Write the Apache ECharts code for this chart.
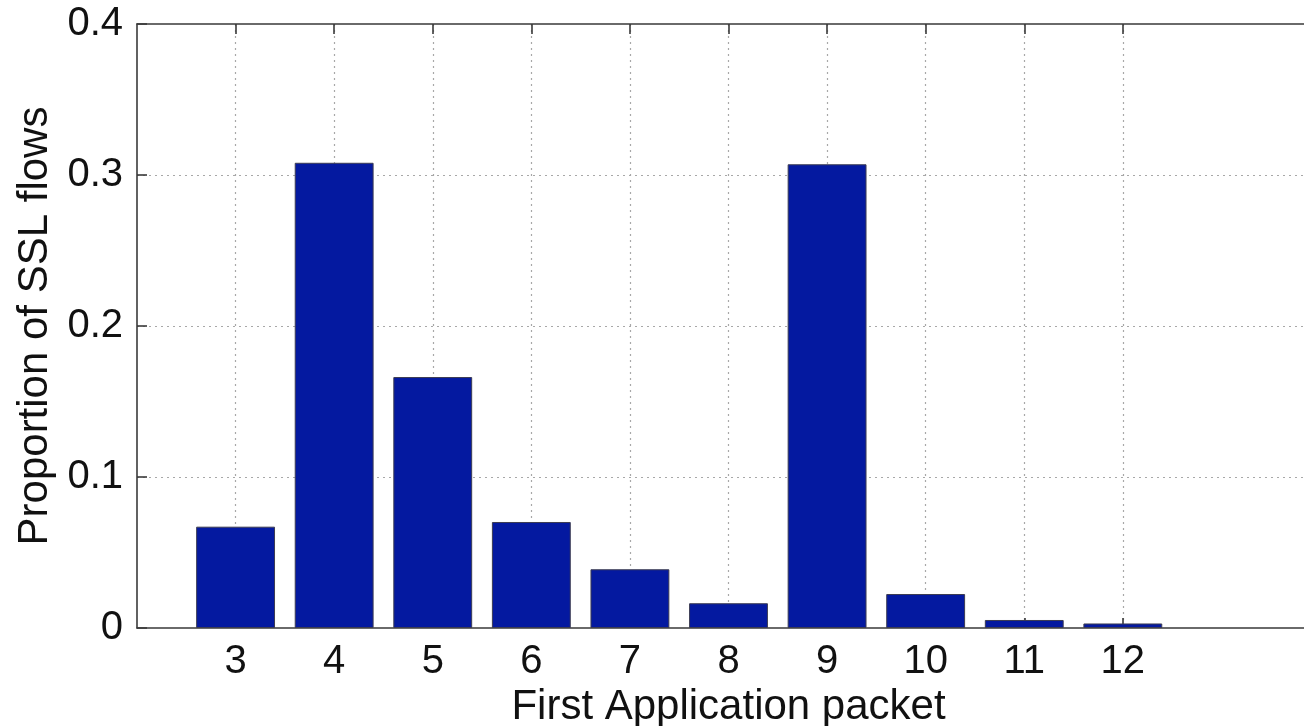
<!DOCTYPE html>
<html>
<head>
<meta charset="utf-8">
<script src="https://cdn.jsdelivr.net/npm/echarts@6/dist/echarts.min.js"></script>
<style>
html,body{margin:0;padding:0;background:#fff;}
#chart{width:1304px;height:726px;}
</style>
</head>
<body>
<div id="chart"></div>
<script>
// Data
const categories = ['3', '4', '5', '6', '7', '8', '9', '10', '11', '12'];
const proportions = [0.0671, 0.3081, 0.1662, 0.0702, 0.0389, 0.0164, 0.3071, 0.0225, 0.0053, 0.0030];
const padLeft = ['2'];
const padRight = ['13', '14'];
const yTicks = [0, 0.1, 0.2, 0.3, 0.4];

const axisCats = padLeft.concat(categories, padRight);
const seriesData = padLeft.map(() => '-').concat(proportions, padRight.map(() => '-'));
const isShown = (idx) => idx >= padLeft.length && idx < padLeft.length + categories.length;

const FONT = '"Liberation Sans", Arial, Helvetica, sans-serif';
const axisLineStyle = { color: '#3a3a3a', width: 1.6 };
const gridStyle = { color: '#a8a8a8', width: 1.2, type: [2, 4] };

const chart = echarts.init(document.getElementById('chart'));
chart.setOption({
  animation: false,
  backgroundColor: '#ffffff',
  grid: { left: 137, top: 24, width: 1183, height: 604, containLabel: false, outerBoundsMode: 'none' },
  xAxis: [{
    type: 'category',
    data: axisCats,
    boundaryGap: false,
    position: 'bottom',
    name: 'First Application packet',
    nameLocation: 'middle',
    nameGap: 44,
    nameTextStyle: { fontFamily: FONT, fontSize: 42, color: '#111' },
    axisLine: { show: true, onZero: false, lineStyle: axisLineStyle },
    axisTick: { show: true, inside: true, length: 10, interval: (i) => isShown(i), lineStyle: axisLineStyle },
    axisLabel: { show: true, interval: (i) => isShown(i), margin: 14, fontFamily: FONT, fontSize: 40, color: '#111' },
    splitLine: { show: true, interval: (i) => isShown(i), lineStyle: gridStyle }
  }, {
    type: 'category',
    data: axisCats,
    boundaryGap: false,
    position: 'top',
    axisLine: { show: true, onZero: false, lineStyle: axisLineStyle },
    axisTick: { show: true, inside: true, length: 10, interval: (i) => isShown(i), lineStyle: axisLineStyle },
    axisLabel: { show: false },
    splitLine: { show: false }
  }],
  yAxis: [{
    type: 'value',
    min: yTicks[0],
    max: yTicks[yTicks.length - 1],
    interval: 0.1,
    name: 'Proportion of SSL flows',
    nameLocation: 'middle',
    nameGap: 80,
    nameTextStyle: { fontFamily: FONT, fontSize: 42, color: '#111' },
    axisLine: { show: true, onZero: false, lineStyle: axisLineStyle },
    axisTick: { show: true, inside: true, length: 10, lineStyle: axisLineStyle },
    axisLabel: { margin: 14, fontFamily: FONT, fontSize: 40, color: '#111',
      formatter: (v) => (v === 0 ? '0' : v.toFixed(1)) },
    splitLine: { show: true, showMinLine: false, showMaxLine: false, lineStyle: gridStyle }
  }, {
    type: 'value',
    position: 'right',
    min: yTicks[0],
    max: yTicks[yTicks.length - 1],
    interval: 0.1,
    axisLine: { show: true, onZero: false, lineStyle: axisLineStyle },
    axisTick: { show: true, inside: true, length: 10, lineStyle: axisLineStyle },
    axisLabel: { show: false },
    splitLine: { show: false }
  }],
  series: [{
    type: 'bar',
    xAxisIndex: 0,
    yAxisIndex: 0,
    data: seriesData,
    barWidth: '80%',
    itemStyle: { color: '#0419A0', borderColor: '#3c3c52', borderWidth: 1 },
    z: 3
  }]
});
</script>
</body>
</html>
